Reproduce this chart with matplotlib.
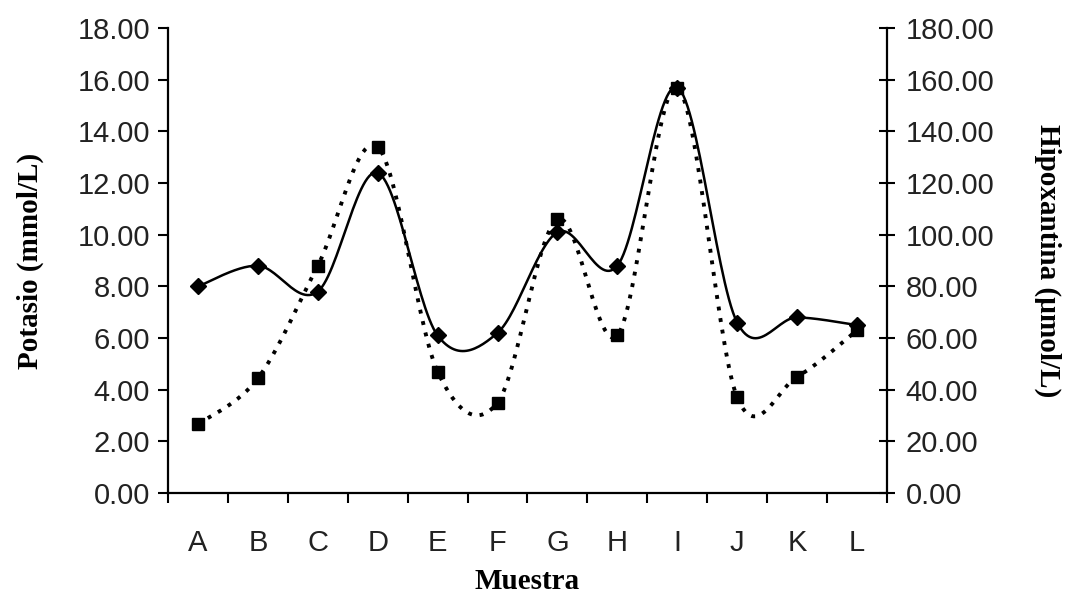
import numpy as np
import matplotlib
matplotlib.use("Agg")
import matplotlib.pyplot as plt

#### DATA ####
muestras = ['A', 'B', 'C', 'D', 'E', 'F', 'G', 'H', 'I', 'J', 'K', 'L']
potasio = [8.0, 8.8, 7.8, 12.4, 6.1, 6.2, 10.1, 8.8, 15.7, 6.6, 6.8, 6.5]          # mmol/L
hipoxantina = [26.6, 44.4, 88.0, 134.0, 47.0, 35.0, 106.0, 61.0, 157.0, 37.0, 45.0, 63.0]  # umol/L


def smooth(x, y, n=30):
    """Catmull-Rom curve through the points (like Excel's smoothed line)."""
    x = np.asarray(x, float)
    y = np.asarray(y, float)
    xs, ys = [], []
    t = np.linspace(0, 1, n)
    for i in range(len(x) - 1):
        i0 = max(i - 1, 0)
        i3 = min(i + 2, len(x) - 1)
        for arr, out in ((x, xs), (y, ys)):
            p0, p1, p2, p3 = arr[i0], arr[i], arr[i + 1], arr[i3]
            seg = 0.5 * ((2 * p1) + (-p0 + p2) * t
                         + (2 * p0 - 5 * p1 + 4 * p2 - p3) * t ** 2
                         + (-p0 + 3 * p1 - 3 * p2 + p3) * t ** 3)
            out.extend(seg if i == 0 else seg[1:])
    return np.array(xs), np.array(ys)


#### FIGURE ####
fig = plt.figure(figsize=(10.68, 5.99), dpi=100)
ax = fig.add_axes([0.1573, 0.177, 0.6732, 0.776])
ax2 = ax.twinx()

xpos = np.arange(len(muestras))

# potasio: solid line, diamonds
sx, sy = smooth(xpos, potasio)
ax.plot(sx, sy, color='black', lw=1.8, zorder=3)
ax.plot(xpos, potasio, 'D', color='black', ms=8, zorder=4)

# hipoxantina: dotted line, squares
hx, hy = smooth(xpos, hipoxantina)
ax2.plot(hx, hy, color='black', lw=2.8, linestyle=(0, (1.0, 2.0)), zorder=3)
ax2.plot(xpos, hipoxantina, 's', color='black', ms=9, zorder=4)

# axes limits and ticks
ax.set_xlim(-0.5, len(muestras) - 0.5)
ax.set_ylim(0, 18)
ax2.set_ylim(0, 180)

ax.set_xticks(np.arange(-0.5, len(muestras), 1.0))
ax.set_xticklabels([])
ax.set_xticks(xpos, minor=True)
ax.set_xticklabels(muestras, minor=True)
ax.tick_params(axis='x', which='major', direction='out', length=7, width=1.5)
ax.tick_params(axis='x', which='minor', length=0, pad=26)

ax.set_yticks(np.arange(0, 18.1, 2))
ax.set_yticklabels(['%.2f' % v for v in np.arange(0, 18.1, 2)])
ax.tick_params(axis='y', direction='out', length=7, width=1.5, pad=6)

ax2.set_yticks(np.arange(0, 181, 20))
ax2.set_yticklabels(['%.2f' % v for v in np.arange(0, 181, 20)])
ax2.tick_params(axis='y', direction='inout', length=11, width=1.5, pad=8)

for lab in ax.get_yticklabels() + ax2.get_yticklabels() + ax.get_xticklabels(minor=True):
    lab.set_fontfamily('Liberation Sans')
    lab.set_fontsize(21)
    lab.set_color('#222222')

for a in (ax, ax2):
    a.spines['top'].set_visible(False)
    for s in ('left', 'right', 'bottom'):
        a.spines[s].set_linewidth(1.6)
ax.spines['right'].set_visible(False)
ax2.spines['left'].set_visible(False)
ax2.spines['bottom'].set_visible(False)

label_font = dict(family='Liberation Serif', weight='bold', size=21)
ax.set_xlabel('Muestra', labelpad=8, **label_font)
ax.set_ylabel('Potasio (mmol/L)', labelpad=24, **label_font)
ax2.set_ylabel('Hipoxantina (\u00b5mol/L)', rotation=270, labelpad=48, **label_font)

fig.savefig('out.png', dpi=100)
